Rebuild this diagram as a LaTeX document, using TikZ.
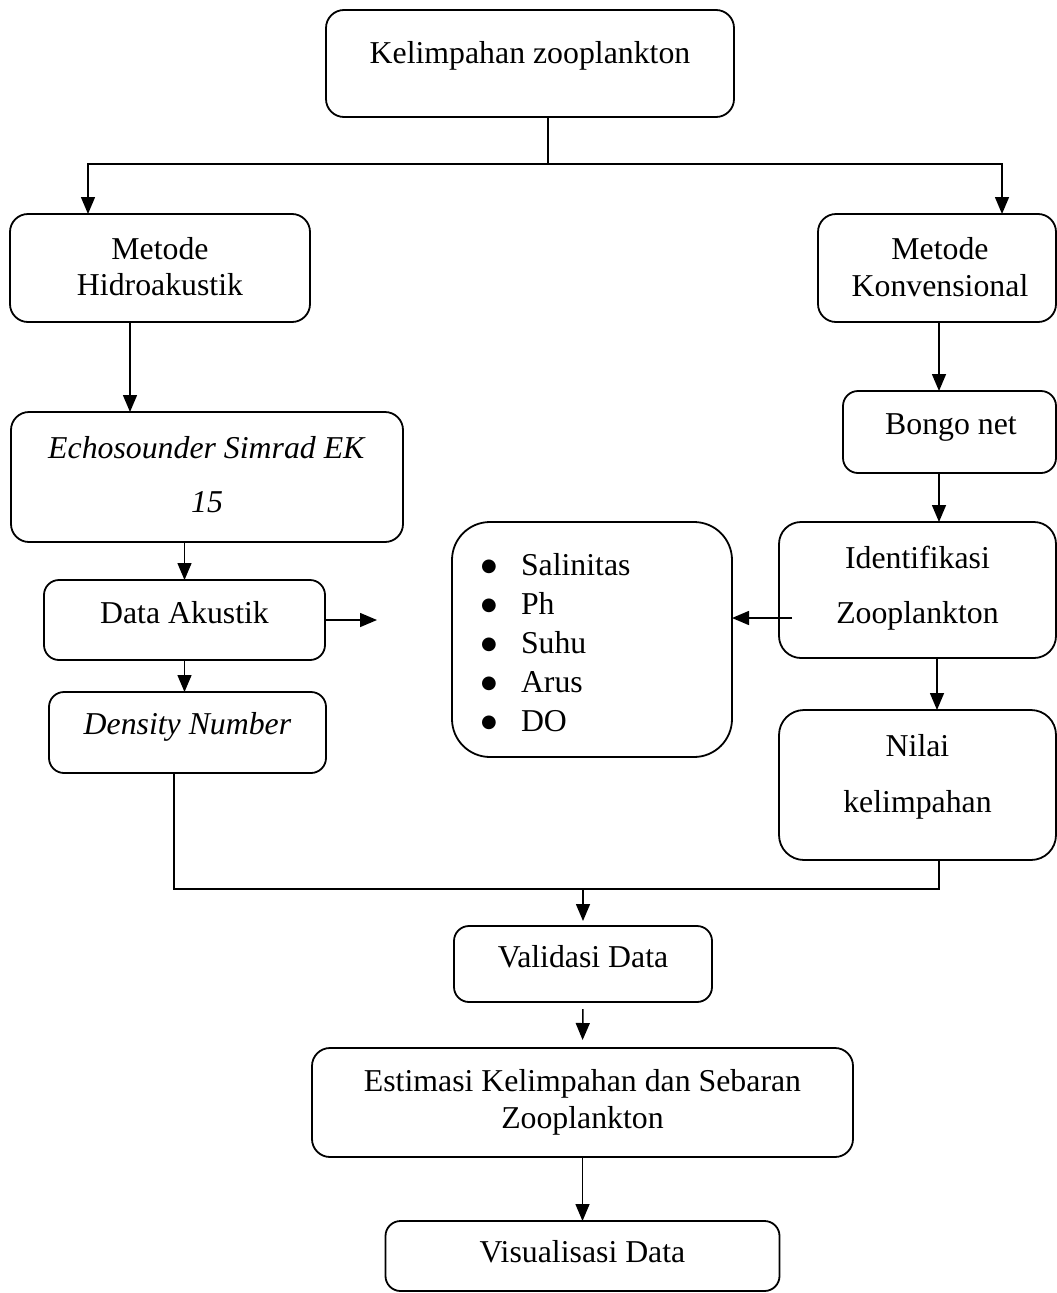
\documentclass[tikz,border=0pt]{standalone}
\usepackage{fontspec}
\setmainfont{Liberation Serif}
\newfontfamily\dejavufam{DejaVu Sans}
\usetikzlibrary{arrows.meta}
\newcommand\bulitem{\makebox[0pt]{\raisebox{3.5pt}{\dejavufam\fontsize{18}{18}\selectfont ●}}\hspace{32pt}}
\begin{document}
\begin{tikzpicture}[x=1pt,y=-1pt,
  box/.style={draw, line width=1.8pt, rounded corners=18pt, inner sep=0pt, outer sep=0pt},
  lbl/.style={inner sep=0pt, outer sep=0pt, anchor=base, font=\fontsize{31.8}{38}\selectfont},
  conn/.style={line width=1.5pt},
  arr/.style={conn, -{Triangle[length=17pt,width=14pt]}}]
\useasboundingbox (0,0) rectangle (1057,1293);

% boxes
\node[box, minimum width=408pt, minimum height=107pt] (kel) at (530,63.5) {};
\node[box, minimum width=300pt, minimum height=108pt] (hidro) at (160,268) {};
\node[box, minimum width=238pt, minimum height=108pt] (konv) at (937,268) {};
\node[box, minimum width=392pt, minimum height=130pt] (echo) at (207,477) {};
\node[box, minimum width=281pt, minimum height=80pt, rounded corners=15pt] (data) at (184.5,620) {};
\node[box, minimum width=277pt, minimum height=81pt, rounded corners=15pt] (dens) at (187.5,732.5) {};
\node[box, minimum width=213pt, minimum height=82pt, rounded corners=15pt] (bongo) at (949.5,432) {};
\node[box, minimum width=277pt, minimum height=136pt, rounded corners=22pt] (ident) at (917.5,590) {};
\node[box, minimum width=280pt, minimum height=235pt, rounded corners=38pt] (bul) at (592,639.5) {};
\node[box, minimum width=277pt, minimum height=150pt, rounded corners=25pt] (nilai) at (917.5,785) {};
\node[box, minimum width=258pt, minimum height=76pt, rounded corners=15pt] (valid) at (583,964) {};
\node[box, minimum width=541pt, minimum height=109pt] (estim) at (582.5,1102.5) {};
\node[box, minimum width=394pt, minimum height=70pt, rounded corners=15pt] (visual) at (582.5,1256) {};

% texts
\node[lbl] (t-kel) at (530,63) {Kelimpahan zooplankton};
\node[lbl] (t-hidro1) at (160,259) {Metode};
\node[lbl] (t-hidro2) at (160,295) {Hidroakustik};
\node[lbl] (t-konv1) at (940,259) {Metode};
\node[lbl] (t-konv2) at (940,296) {Konvensional};
\node[lbl] (t-echo1) at (207,458) {\textit{Echosounder Simrad EK}};
\node[lbl] (t-echo2) at (207,512) {\textit{15}};
\node[lbl] (t-data) at (184.5,623) {Data Akustik};
\node[lbl] (t-dens) at (187.5,734) {\textit{Density Number}};
\node[lbl] (t-bongo) at (951,434) {Bongo net};
\node[lbl] (t-ident1) at (917.5,568) {Identifikasi};
\node[lbl] (t-ident2) at (917.5,623) {Zooplankton};
\node[lbl] (t-nilai1) at (917.5,756) {Nilai};
\node[lbl] (t-nilai2) at (917.5,812) {kelimpahan};
\node[lbl] (t-valid) at (583,967) {Validasi Data};
\node[lbl] (t-estim1) at (582.5,1091) {Estimasi Kelimpahan dan Sebaran};
\node[lbl] (t-estim2) at (582.5,1128) {Zooplankton};
\node[lbl] (t-visual) at (582.5,1262) {Visualisasi Data};
\node[lbl, anchor=base west] (t-bul) at (489,575) {\fontsize{31.8}{39}\selectfont
  \begin{tabular}[t]{@{}l@{}}
  \bulitem Salinitas\\
  \bulitem Ph\\
  \bulitem Suhu\\
  \bulitem Arus\\
  \bulitem DO
  \end{tabular}};

% connectors
\coordinate (split) at (548,164);
\coordinate (jl) at (88,164);
\coordinate (jr) at (1002,164);
\draw[conn] (kel.south -| split) -- (split);
\draw[arr] (split) -| (hidro.north -| jl);
\draw[arr] (split) -| (konv.north -| jr);

\coordinate (h1) at (130,322);
\draw[arr] (h1) -- (h1 |- echo.north);
\draw[arr] (echo.south -| data.north) -- (data.north);
\draw[arr] (data.south) -- (dens.north -| data.south);
\coordinate (dout) at (377,620);
\draw[arr] (data.east) -- (dout);

\coordinate (mL) at (174,889);
\coordinate (mR) at (939,889);
\coordinate (mC) at (583,889);
\draw[conn] (dens.south -| mL) -- (mL) -- (mR) -- (nilai.south -| mR);
\draw[arr, shorten >=5pt] (mC) -- (valid.north);

\coordinate (k1) at (939,322);
\draw[arr] (k1) -- (k1 |- bongo.north);
\draw[arr] (bongo.south -| k1) -- (ident.north -| k1);
\coordinate (iL) at (792,618);
\draw[arr] (iL) -- (bul.east |- iL);
\coordinate (i2) at (937,658);
\draw[arr] (i2) -- (i2 |- nilai.north);
\draw[arr, shorten <=7pt, shorten >=8pt] (valid.south) -- (estim.north);
\draw[arr] (estim.south) -- (visual.north);
\end{tikzpicture}
\end{document}
